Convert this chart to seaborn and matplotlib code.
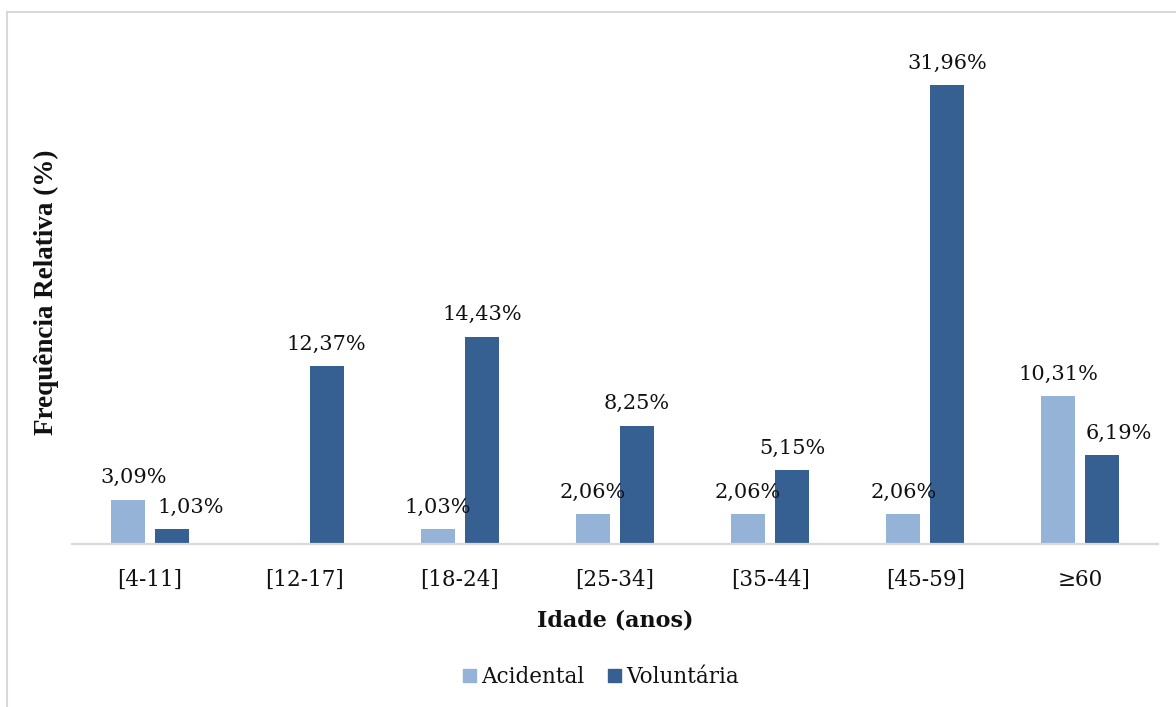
import matplotlib
matplotlib.use("Agg")
import matplotlib.pyplot as plt
import seaborn as sns
import pandas as pd
from matplotlib.lines import Line2D

# Age groups and relative frequencies (%) per type
age_groups = ["[4-11]", "[12-17]", "[18-24]", "[25-34]", "[35-44]", "[45-59]", "≥60"]
acidental = [3.09, 0.0, 1.03, 2.06, 2.06, 2.06, 10.31]
voluntaria = [1.03, 12.37, 14.43, 8.25, 5.15, 31.96, 6.19]
series_names = ["Acidental", "Voluntária"]
colors = ["#95B3D7", "#366092"]

df = pd.DataFrame({
    "Idade": age_groups * 2,
    "Tipo": [series_names[0]] * len(age_groups) + [series_names[1]] * len(age_groups),
    "Freq": acidental + voluntaria,
})

sns.set_theme(style="white")
plt.rcParams["font.family"] = ["DejaVu Serif"]

W, H = 1176, 707
fig = plt.figure(figsize=(W / 100, H / 100), dpi=100)
ax = fig.add_axes([72 / W, 1 - 544 / H, (1158 - 72) / W, (544 - 41.4) / H])

sns.barplot(data=df, x="Idade", y="Freq", hue="Tipo", order=age_groups,
            hue_order=series_names, palette=colors, width=0.567, gap=0.227,
            linewidth=0, saturation=1, ax=ax, legend=False)

ax.set_ylim(0, 35)
ax.set_xlim(-0.5, len(age_groups) - 0.5)
ax.set_yticks([])
for s in ["left", "right", "top"]:
    ax.spines[s].set_visible(False)
ax.spines["bottom"].set_color("#D9D9D9")
ax.spines["bottom"].set_linewidth(1.6)
ax.tick_params(axis="x", length=0, pad=18, labelsize=15.5, colors="#111111")
ax.set_xlabel("Idade (anos)", fontsize=16, fontweight="bold", labelpad=13, color="#111111")
ax.set_ylabel("Frequência Relativa (%)", fontsize=19.5, fontweight="bold",
              family=["Liberation Serif"], labelpad=9, color="#111111")

# Value labels above bars (small horizontal nudges in pixels where labels crowd)
nudges = {(0, 0): 6, (1, 0): 19, (1, 6): 16}
for si, cont in enumerate(ax.containers):
    vals = [acidental, voluntaria][si]
    for gi, (bar, v) in enumerate(zip(cont, vals)):
        if v <= 0:
            continue
        dx = nudges.get((si, gi), 0) * 72 / 100
        ax.annotate(f"{v:.2f}".replace(".", ",") + "%",
                    (bar.get_x() + bar.get_width() / 2, bar.get_height()),
                    xytext=(dx, 9), textcoords="offset points",
                    ha="center", va="bottom", fontsize=15, color="#111111")

# Legend below the axis title
handles = [plt.Rectangle((0, 0), 1, 1, color=c) for c in colors]
fig.legend(handles, series_names, loc="center", bbox_to_anchor=(601 / W, 1 - 677 / H),
           ncol=2, frameon=False, fontsize=15.5, handlelength=0.6, handleheight=0.6,
           handletextpad=0.25, columnspacing=1.1, labelcolor="#111111")

# Chart area border (top and left edges)
fig.add_artist(Line2D([6.5 / W, 1], [1 - 11.5 / H, 1 - 11.5 / H], color="#D9D9D9", lw=1.5))
fig.add_artist(Line2D([6.5 / W, 6.5 / W], [0, 1 - 11.5 / H], color="#D9D9D9", lw=1.5))

fig.savefig("out.png", dpi=100)
